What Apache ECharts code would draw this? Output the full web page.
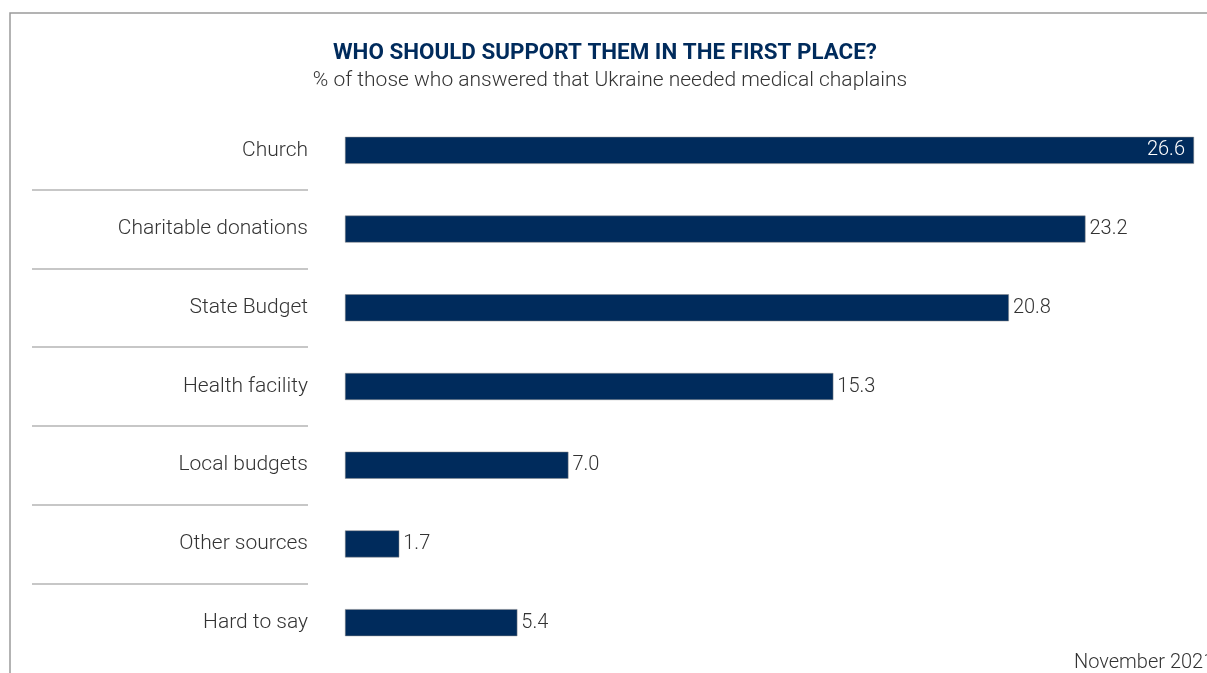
<!DOCTYPE html>
<html>
<head>
<meta charset="utf-8">
<title>Who should support them</title>
<script src="https://cdn.jsdelivr.net/npm/echarts@6/dist/echarts.min.js"></script>
<style>
    html, body { margin: 0; padding: 0; background: #fff; }
    #chart { width: 1207px; height: 673px; }
</style>
</head>
<body>
<div id="chart"></div>
<script>
/* ===================== 数据 ===================== */
var categories = ['Church', 'Charitable donations', 'State Budget', 'Health facility',
    'Local budgets', 'Other sources', 'Hard to say'];
var values = [26.6, 23.2, 20.8, 15.3, 7.0, 1.7, 5.4];
var titleText = 'WHO SHOULD SUPPORT THEM IN THE FIRST PLACE?';
var subText = '% of those who answered that Ukraine needed medical chaplains';
var noteText = 'November 2021';
/* ===================== end ===================== */

var NAVY = '#002b5c';
var FONT = 'Roboto';

var chart = echarts.init(document.getElementById('chart'));

// 最大值标签放在柱子内部
var barData = values.map(function (v, i) {
    var item = { value: v };
    if (i === 0) {
        item.label = { position: 'insideRight', color: '#fff', distance: 9 };
    }
    return item;
});

var option = {
    animation: false,
    textStyle: { fontFamily: FONT },
    title: [{
        text: titleText,
        left: 600,
        top: 37,
        textAlign: 'center',
        textStyle: { fontFamily: FONT, fontSize: 22.4, fontWeight: 'bold', color: NAVY }
    }, {
        // 副标题
        text: subText,
        left: 605,
        top: 65,
        textAlign: 'center',
        textStyle: { fontFamily: FONT, fontSize: 21, fontWeight: 300, color: '#333' }
    }, {
        text: noteText,
        left: 1069,
        top: 648,
        textStyle: { fontFamily: FONT, fontSize: 20, fontWeight: 300, color: '#333' }
    }],
    graphic: [{
        // 外框
        type: 'rect',
        shape: { x: 10, y: 13, width: 1250, height: 720 },
        style: { fill: 'none', stroke: '#9a9a9a', lineWidth: 1.5 },
        silent: true
    }],
    grid: [{
        left: 345, right: 13, top: 111, bottom: 11
    }, {
        // 标签分隔线
        left: 32, width: 276, top: 111, bottom: 11
    }],
    xAxis: [{
        type: 'value', gridIndex: 0, min: 0, max: 26.6, show: false
    }, {
        type: 'value', gridIndex: 1, min: 0, max: 1, show: false
    }],
    yAxis: [{
        type: 'category',
        gridIndex: 0,
        inverse: true,
        data: categories,
        axisLine: { show: false },
        axisTick: { show: false },
        axisLabel: {
            margin: 37,
            fontFamily: FONT,
            fontSize: 21,
            fontWeight: 300,
            color: '#333'
        }
    }, {
        type: 'category',
        gridIndex: 1,
        inverse: true,
        data: categories,
        axisLine: { show: false },
        axisTick: { show: false },
        axisLabel: { show: false },
        splitLine: {
            show: true,
            showMinLine: false,
            showMaxLine: false,
            lineStyle: { color: '#b5b5b5', width: 1.5 }
        }
    }],
    series: [{
        type: 'bar',
        xAxisIndex: 0,
        yAxisIndex: 0,
        data: barData,
        barWidth: 27,
        itemStyle: { color: NAVY, borderColor: '#8a8a8a', borderWidth: 0.5 },
        label: {
            show: true,
            position: 'right',
            distance: 4,
            fontFamily: FONT,
            fontSize: 20,
            fontWeight: 300,
            color: '#333',
            formatter: function (p) { return p.value.toFixed(1); }
        }
    }]
};

chart.setOption(option);
</script>
</body>
</html>
